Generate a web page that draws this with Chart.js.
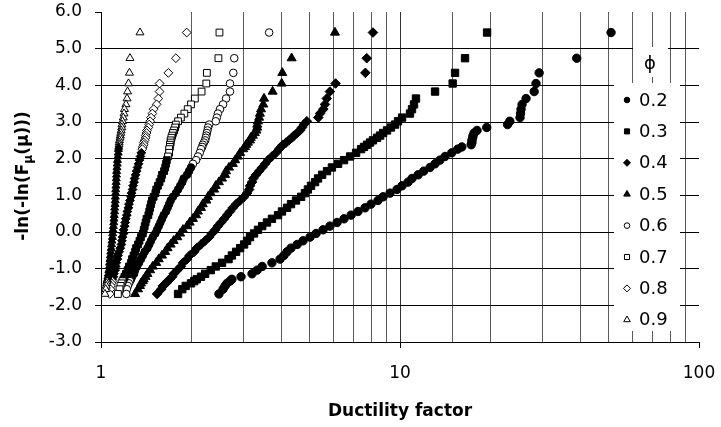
<!DOCTYPE html>
<html>
<head>
<meta charset="utf-8">
<script src="https://cdn.jsdelivr.net/npm/chart.js@4.4.1/dist/chart.umd.min.js"></script>
<style>
  html, body { margin: 0; padding: 0; background: #fff; }
  #wrap { width: 721px; height: 427px; }
</style>
</head>
<body>
<div id="wrap"><canvas id="chart" width="721" height="427"></canvas></div>
<script>
// plotting position -ln(-ln(F)), shared by every phi series (same sample size)
const plotPos = [5.44, 4.74, 4.34, 4.05, 3.83, 3.64, 3.48, 3.35, 3.23, 3.12,
  3.02, 2.93, 2.85, 2.77, 2.70, 2.63, 2.57, 2.50, 2.44, 2.38,
  2.32, 2.26, 2.16, 2.06, 1.96, 1.86, 1.76, 1.66, 1.56, 1.46,
  1.36, 1.26, 1.16, 1.06, 0.96, 0.86, 0.76, 0.66, 0.56, 0.46,
  0.36, 0.26, 0.16, 0.06, -0.04, -0.14, -0.24, -0.34, -0.44, -0.54,
  -0.64, -0.74, -0.84, -0.94, -1.04, -1.14, -1.22, -1.29, -1.34, -1.40,
  -1.47, -1.56, -1.69];

// ductility factor, one value per plotting position
const phi02 = [50.8, 39.0, 29.2, 28.5, 28.1, 26.4, 25.6, 25.4, 25.3, 25.2,
  23.3, 22.9, 19.5, 18.1, 17.7, 17.55, 17.5, 17.4, 17.4, 17.3,
  16.1, 15.6, 14.9, 14.15, 13.6, 13.1, 12.6, 12.0, 11.5, 10.97,
  10.64, 10.16, 9.77, 9.26, 8.78, 8.44, 8.0, 7.64, 7.24, 6.86,
  6.5, 6.16, 5.83, 5.53, 5.24, 5.0, 4.74, 4.53, 4.32, 4.19,
  4.09, 3.97, 3.73, 3.46, 3.33, 3.2, 2.94, 2.74, 2.7, 2.64,
  2.6, 2.56, 2.48];
const phi03 = [19.55, 16.5, 15.28, 15.0, 13.1, 11.31, 11.14, 10.97, 10.8, 10.16,
  9.85, 9.63, 9.33, 9.05, 8.78, 8.58, 8.38, 8.12, 7.94, 7.76,
  7.58, 7.41, 7.13, 6.81, 6.5, 6.21, 5.92, 5.7, 5.49, 5.32,
  5.2, 5.04, 4.92, 4.81, 4.67, 4.49, 4.32, 4.19, 4.03, 3.91,
  3.73, 3.59, 3.46, 3.35, 3.25, 3.15, 3.08, 3.01, 2.92, 2.83,
  2.74, 2.67, 2.54, 2.42, 2.33, 2.23, 2.16, 2.09, 2.05, 2.0,
  1.92, 1.87, 1.81];
const phi04 = [8.12, 7.74, 7.66, 6.09, 5.83, 5.69, 5.61, 5.54, 5.4, 5.33,
  4.88, 4.77, 4.7, 4.63, 4.53, 4.42, 4.35, 4.25, 4.16, 4.06,
  4.0, 3.94, 3.85, 3.73, 3.62, 3.54, 3.46, 3.38, 3.3, 3.23,
  3.2, 3.15, 3.13, 3.08, 3.01, 2.92, 2.83, 2.76, 2.7, 2.64,
  2.58, 2.52, 2.46, 2.41, 2.35, 2.3, 2.23, 2.16, 2.09, 2.05,
  1.98, 1.94, 1.88, 1.85, 1.8, 1.75, 1.73, 1.7, 1.67, 1.65,
  1.61, 1.59, 1.54];
const phi05 = [6.06, 4.34, 4.04, 4.02, 3.75, 3.51, 3.49, 3.43, 3.40, 3.38,
  3.35, 3.33, 3.33, 3.31, 3.27, 3.22, 3.17, 3.15, 3.10, 3.06,
  3.03, 2.99, 2.92, 2.87, 2.81, 2.76, 2.68, 2.62, 2.60, 2.54,
  2.48, 2.42, 2.39, 2.33, 2.28, 2.25, 2.19, 2.16, 2.11, 2.08,
  2.03, 1.98, 1.94, 1.88, 1.84, 1.80, 1.75, 1.71, 1.67, 1.64,
  1.60, 1.56, 1.53, 1.49, 1.46, 1.43, 1.41, 1.39, 1.38, 1.36,
  1.35, 1.33, 1.30];
const phi06 = [3.65, 2.79, 2.77, 2.70, 2.70, 2.62, 2.56, 2.50, 2.46, 2.44,
  2.42, 2.30, 2.28, 2.27, 2.26, 2.25, 2.24, 2.23, 2.21, 2.19,
  2.18, 2.16, 2.14, 2.11, 2.08, 2.03, 2.00, 1.97, 1.94, 1.89,
  1.87, 1.84, 1.81, 1.78, 1.74, 1.71, 1.69, 1.67, 1.65, 1.62,
  1.60, 1.58, 1.56, 1.54, 1.52, 1.49, 1.47, 1.45, 1.43, 1.40,
  1.38, 1.36, 1.34, 1.32, 1.30, 1.29, 1.27, 1.26, 1.25, 1.24,
  1.23, 1.22, 1.215];
const phi07 = [2.49, 2.47, 2.26, 2.25, 2.17, 2.06, 2.0, 1.95, 1.9, 1.85,
  1.81, 1.78, 1.77, 1.755, 1.74, 1.73, 1.72, 1.71, 1.71, 1.70,
  1.70, 1.69, 1.69, 1.675, 1.66, 1.65, 1.64, 1.625, 1.60, 1.59,
  1.57, 1.55, 1.53, 1.52, 1.50, 1.48, 1.47, 1.46, 1.45, 1.44,
  1.42, 1.41, 1.40, 1.39, 1.38, 1.36, 1.345, 1.33, 1.31, 1.30,
  1.285, 1.27, 1.26, 1.24, 1.227, 1.212, 1.198, 1.189, 1.18, 1.171,
  1.162, 1.153, 1.139];
const phi08 = [1.935, 1.78, 1.68, 1.57, 1.57, 1.555, 1.535, 1.50, 1.485, 1.47,
  1.46, 1.45, 1.44, 1.425, 1.42, 1.41, 1.41, 1.40, 1.39, 1.39,
  1.38, 1.375, 1.365, 1.355, 1.345, 1.335, 1.325, 1.315, 1.305, 1.295,
  1.29, 1.28, 1.275, 1.265, 1.26, 1.25, 1.24, 1.235, 1.225, 1.22,
  1.21, 1.205, 1.20, 1.19, 1.19, 1.18, 1.175, 1.17, 1.16, 1.15,
  1.14, 1.135, 1.125, 1.12, 1.115, 1.105, 1.10, 1.09, 1.09, 1.085,
  1.08, 1.075, 1.07];
const phi09 = [1.35, 1.25, 1.245, 1.236, 1.227, 1.222, 1.212, 1.198, 1.194, 1.187,
  1.18, 1.175, 1.173, 1.168, 1.164, 1.16, 1.158, 1.153, 1.15, 1.149,
  1.146, 1.144, 1.142, 1.138, 1.135, 1.133, 1.131, 1.128, 1.127, 1.125,
  1.124, 1.122, 1.12, 1.119, 1.117, 1.116, 1.114, 1.111, 1.11, 1.107,
  1.105, 1.103, 1.1, 1.097, 1.094, 1.092, 1.088, 1.085, 1.082, 1.078,
  1.075, 1.072, 1.068, 1.065, 1.062, 1.058, 1.054, 1.05, 1.047, 1.044,
  1.041, 1.037, 1.031];

const phiLabels = ['0.2', '0.3', '0.4', '0.5', '0.6', '0.7', '0.8', '0.9'];
const seriesX = [phi02, phi03, phi04, phi05, phi06, phi07, phi08, phi09];
const xLabels = [1, 10, 100];

const FONT = 'DejaVu Sans';
Chart.defaults.font.family = FONT;
Chart.defaults.color = '#000';

// marker look per series; hollow markers pile up into a solid band where the
// sample is dense, so inside that band they are painted black
const markers = [
  { style: 'circle', fill: '#000', r: 4.2, lr: 2.8 },
  { style: 'rect', fill: '#000', r: 5.2, lr: 3.6 },
  { style: 'rectRot', fill: '#000', r: 4.8, lr: 3.5 },
  { style: 'triangle', fill: '#000', r: 5.2, lr: 3.8 },
  { style: 'circle', fill: '#fff', r: 3.8, lr: 2.8, band: [-1.3, 1.8] },
  { style: 'rect', fill: '#fff', r: 4.8, lr: 3.6, band: [-1.3, 2.0] },
  { style: 'rectRot', fill: '#fff', r: 4.4, lr: 3.5, band: [-1.3, 2.2] },
  { style: 'triangle', fill: '#fff', r: 4.6, lr: 3.8, band: [-1.3, 2.35] },
];

function isDecade(v) {
  const lg = Math.log10(v);
  return Math.abs(lg - Math.round(lg)) < 1e-6;
}

function pointFill(m) {
  return (c) => {
    if (m.band && c.raw && c.raw.y > m.band[0] && c.raw.y < m.band[1]) return '#000';
    return m.fill;
  };
}

function drawMarker(ctx, m, x, y, r) {
  if (Chart.helpers && Chart.helpers.drawPoint) {
    Chart.helpers.drawPoint(ctx, { pointStyle: m.style, radius: r, rotation: 0, borderWidth: 1 }, x, y);
    return;
  }
  ctx.beginPath();
  ctx.arc(x, y, r, 0, Math.PI * 2);
  ctx.fill();
  ctx.stroke();
}

const phiLegend = {
  id: 'phiLegend',
  afterDraw(chart) {
    const ctx = chart.ctx;
    ctx.save();
    ctx.fillStyle = '#fff';
    ctx.fillRect(633, 47, 35, 30);
    ctx.fillRect(614, 83, 66, 248);
    ctx.fillStyle = '#000';
    ctx.font = '18px "' + FONT + '"';
    ctx.textAlign = 'center';
    ctx.textBaseline = 'middle';
    ctx.fillText('\u03D5', 650, 64);
    ctx.textAlign = 'left';
    ctx.lineWidth = 1;
    ctx.strokeStyle = '#000';
    phiLabels.forEach((label, i) => {
      const y = 100 + i * 31.4;
      ctx.fillStyle = markers[i].fill;
      drawMarker(ctx, markers[i], 627, y, markers[i].lr);
      ctx.fillStyle = '#000';
      ctx.fillText(label, 639, y + 1);
    });
    ctx.restore();
  }
};

// y title has a subscript, so it is drawn by hand
const yTitle = {
  id: 'yTitle',
  afterDraw(chart) {
    const ctx = chart.ctx;
    const big = 'bold 17px "' + FONT + '"';
    const small = 'bold 12px "' + FONT + '"';
    const parts = [['-ln(-ln(F', big, 0], ['\u03BC', small, 4], ['(\u03BC)))', big, 0]];
    ctx.save();
    ctx.translate(22, 176);
    ctx.rotate(-Math.PI / 2);
    ctx.fillStyle = '#000';
    ctx.textBaseline = 'alphabetic';
    ctx.textAlign = 'left';
    let total = 0;
    parts.forEach(p => { ctx.font = p[1]; total += ctx.measureText(p[0]).width; });
    let x = -total / 2;
    parts.forEach(p => {
      ctx.font = p[1];
      ctx.fillText(p[0], x, 6 + p[2]);
      x += ctx.measureText(p[0]).width;
    });
    ctx.restore();
  }
};

new Chart(document.getElementById('chart'), {
  type: 'scatter',
  data: {
    datasets: phiLabels.map((label, i) => ({
      label,
      data: seriesX[i].map((x, k) => ({ x, y: plotPos[k] })),
      pointStyle: markers[i].style,
      pointRadius: markers[i].r,
      pointBackgroundColor: pointFill(markers[i]),
      pointBorderColor: '#000',
      pointBorderWidth: 1,
      showLine: false,
      order: phiLabels.length - i,
    })),
  },
  options: {
    responsive: false,
    animation: false,
    events: [],
    layout: { padding: { left: 0, right: 22, top: 12, bottom: 0 } },
    plugins: {
      legend: { display: false },
      tooltip: { enabled: false },
    },
    scales: {
      x: {
        type: 'logarithmic',
        min: 1,
        max: 100,
        afterFit: (s) => { s.height = 85; s.paddingLeft = 0; s.paddingRight = 0; },
        border: { display: true, color: '#000', width: 1 },
        grid: {
          color: (c) => {
            const v = c.tick ? c.tick.value : 0;
            if (v >= 100) return 'rgba(0,0,0,0)';
            return isDecade(v) ? '#333' : '#5a5a5a';
          },
          lineWidth: 1,
          tickLength: 6,
          tickColor: (c) => (c.tick && isDecade(c.tick.value) ? '#000' : 'rgba(0,0,0,0)'),
        },
        ticks: {
          autoSkip: false,
          maxRotation: 0,
          padding: 15,
          font: { size: 17 },
          color: '#000',
          callback: (value) => {
            const hit = xLabels.find(t => Math.abs(t - value) < 1e-6);
            return hit !== undefined ? String(hit) : '';
          },
        },
        title: {
          display: true,
          text: 'Ductility factor',
          font: { size: 17, weight: 'bold' },
          color: '#000',
          padding: { top: 0, bottom: 5 },
        },
      },
      y: {
        min: -3,
        max: 6,
        afterFit: (s) => { s.width = 101; s.paddingTop = 0; s.paddingBottom = 0; },
        border: { display: true, color: '#000', width: 1 },
        grid: {
          color: (c) => (c.tick && c.tick.value === 6 ? 'rgba(0,0,0,0)' : '#000'),
          lineWidth: 1,
          tickLength: 6,
          tickColor: '#000',
        },
        ticks: {
          stepSize: 1,
          padding: 13,
          font: { size: 17 },
          color: '#000',
          callback: (v) => v.toFixed(1),
        },
      },
    },
  },
  plugins: [phiLegend, yTitle],
});
</script>
</body>
</html>
